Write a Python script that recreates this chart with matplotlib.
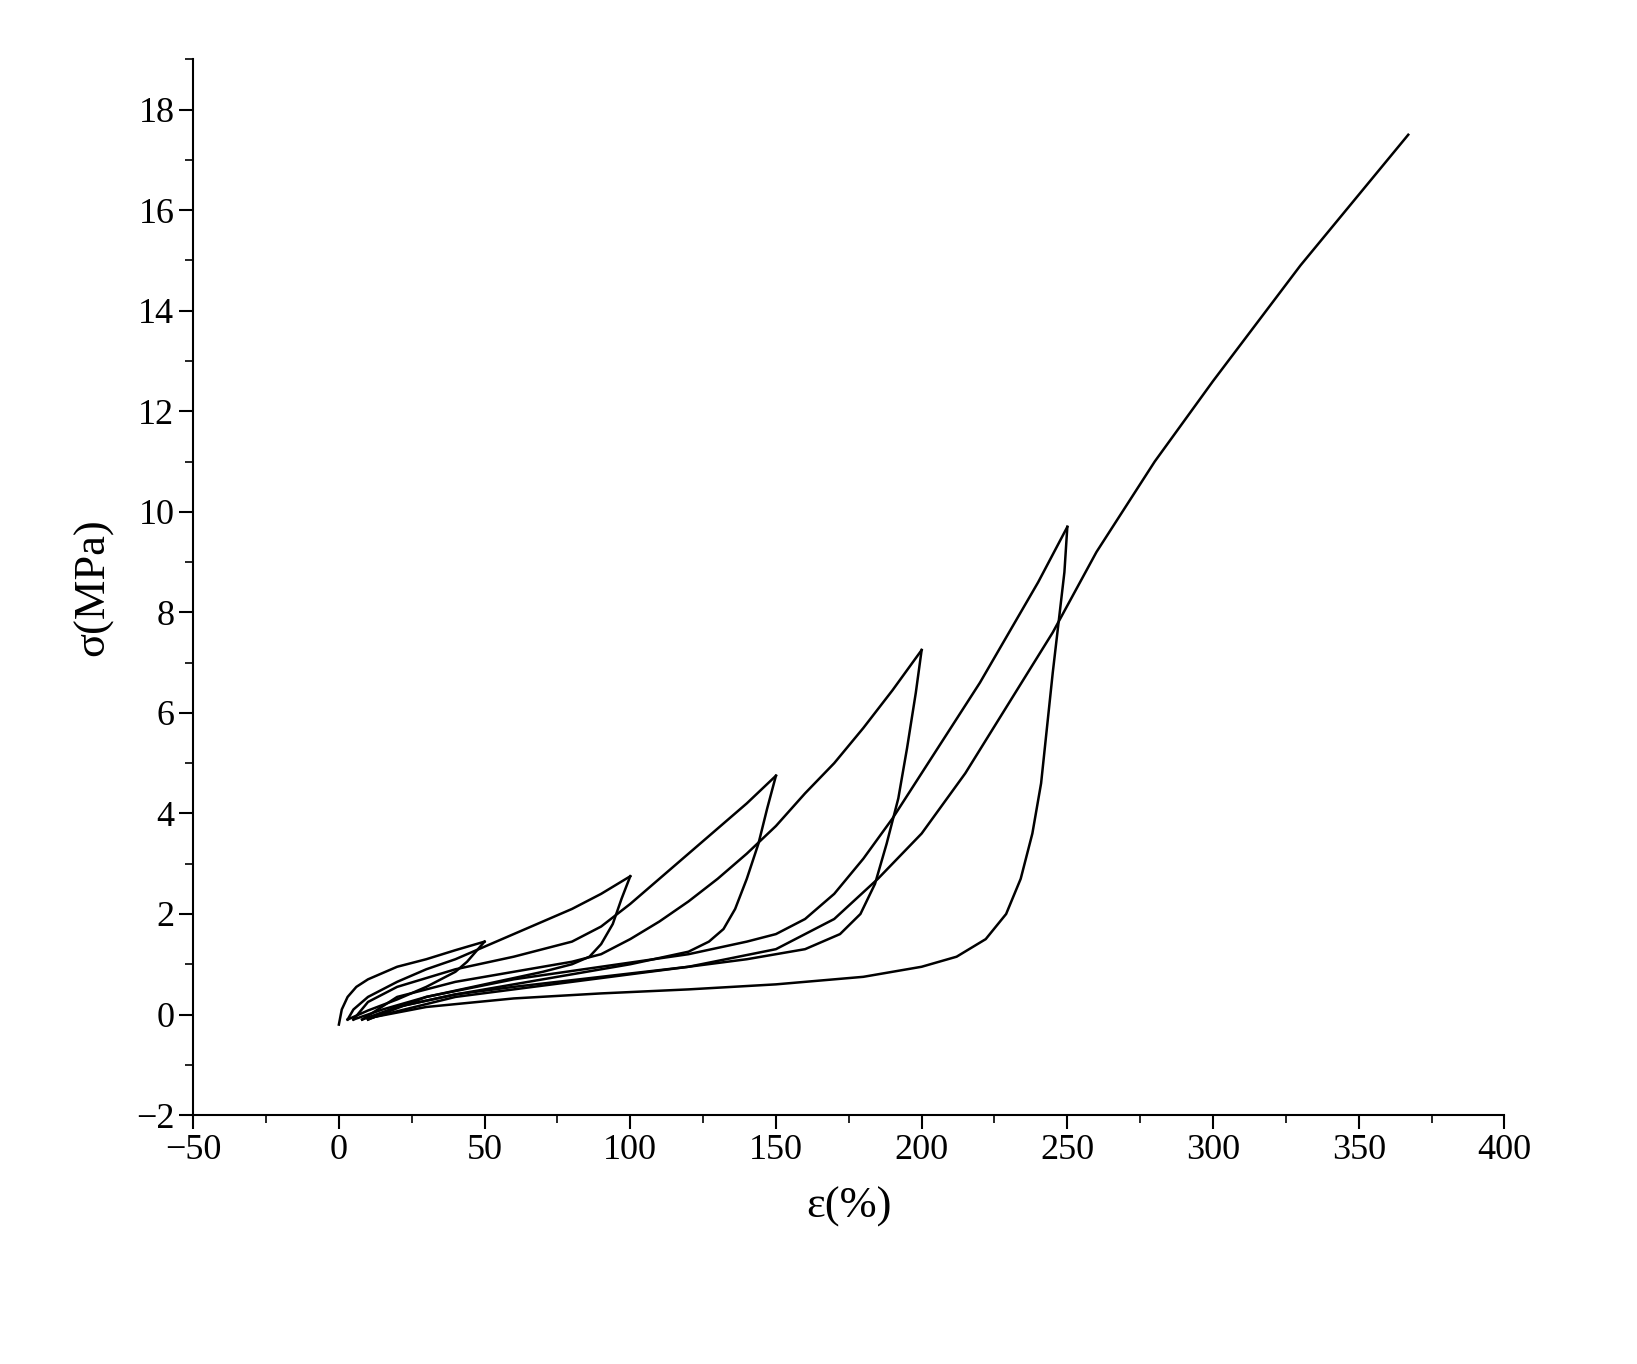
import matplotlib.pyplot as plt
from matplotlib.ticker import MultipleLocator

# loading / unloading branches (strain %, stress MPa)
load1_x = [0, 1, 3, 6, 10, 20, 30, 40, 50]
load1_y = [-0.2, 0.1, 0.35, 0.55, 0.7, 0.95, 1.1, 1.28, 1.45]
unload1_x = [50, 47, 44, 40, 30, 20, 10, 3]
unload1_y = [1.45, 1.25, 1.05, 0.85, 0.55, 0.3, 0.08, -0.1]

load2_x = [3, 5, 10, 20, 30, 40, 50, 60, 70, 80, 90, 100]
load2_y = [-0.1, 0.1, 0.35, 0.65, 0.9, 1.1, 1.35, 1.6, 1.85, 2.1, 2.4, 2.75]
unload2_x = [100, 97, 94, 90, 86, 80, 70, 50, 30, 15, 5]
unload2_y = [2.75, 2.3, 1.8, 1.4, 1.15, 1.0, 0.85, 0.6, 0.35, 0.1, -0.1]

load3_x = [5, 10, 20, 40, 60, 80, 90, 100, 110, 120, 130, 140, 150]
load3_y = [-0.1, 0.25, 0.55, 0.9, 1.15, 1.45, 1.75, 2.2, 2.7, 3.2, 3.7, 4.2, 4.75]
unload3_x = [150, 147, 144, 140, 136, 132, 127, 120, 100, 80, 60, 40, 20, 8]
unload3_y = [4.75, 4.1, 3.4, 2.7, 2.1, 1.7, 1.45, 1.25, 1.0, 0.8, 0.6, 0.4, 0.15, -0.1]

load4_x = [8, 20, 40, 60, 80, 90, 100, 110, 120, 130, 140, 150, 160, 170, 180, 190, 200]
load4_y = [-0.1, 0.35, 0.65, 0.85, 1.05, 1.2, 1.5, 1.85, 2.25, 2.7, 3.2, 3.75, 4.4, 5.0, 5.7, 6.45, 7.25]
unload4_x = [200, 198, 195, 192, 188, 184, 179, 172, 160, 140, 120, 90, 60, 40, 20, 10]
unload4_y = [7.25, 6.4, 5.3, 4.3, 3.4, 2.6, 2.0, 1.6, 1.3, 1.1, 0.95, 0.75, 0.55, 0.4, 0.15, -0.1]

load5_x = [10, 30, 60, 90, 120, 140, 150, 160, 170, 180, 190, 200, 210, 220, 230, 240, 250]
load5_y = [-0.1, 0.35, 0.7, 0.95, 1.2, 1.45, 1.6, 1.9, 2.4, 3.1, 3.9, 4.8, 5.7, 6.6, 7.6, 8.6, 9.7]
unload5_x = [250, 249, 247, 245, 243, 241, 238, 234, 229, 222, 212, 200, 180, 150, 120, 90, 60, 30, 12]
unload5_y = [9.7, 8.8, 7.8, 6.8, 5.7, 4.6, 3.6, 2.7, 2.0, 1.5, 1.15, 0.95, 0.75, 0.6, 0.5, 0.42, 0.32, 0.15, -0.05]

final_x = [12, 40, 80, 120, 150, 170, 185, 200, 215, 230, 245, 260, 280, 300, 330, 367]
final_y = [-0.05, 0.35, 0.65, 0.95, 1.3, 1.9, 2.7, 3.6, 4.8, 6.2, 7.6, 9.2, 11.0, 12.6, 14.9, 17.5]

branches = [(load1_x, load1_y), (unload1_x, unload1_y),
            (load2_x, load2_y), (unload2_x, unload2_y),
            (load3_x, load3_y), (unload3_x, unload3_y),
            (load4_x, load4_y), (unload4_x, unload4_y),
            (load5_x, load5_y), (unload5_x, unload5_y),
            (final_x, final_y)]

plt.rcParams['font.family'] = ['Liberation Serif', 'DejaVu Serif']

fig = plt.figure(figsize=(16.37, 13.64), dpi=100)
ax = fig.add_axes([0.118, 0.1825, 0.801, 0.774])

for bx, by in branches:
    ax.plot(bx, by, color='black', lw=1.8)

ax.set_xlim(-50, 400)
ax.set_ylim(-2, 19)
ax.xaxis.set_major_locator(MultipleLocator(50))
ax.xaxis.set_minor_locator(MultipleLocator(25))
ax.yaxis.set_minor_locator(MultipleLocator(1))
ax.set_yticks(range(-2, 19, 2))
ax.tick_params(which='major', length=10, width=1.5, labelsize=26, direction='out')
ax.tick_params(which='minor', length=6, width=1.2, direction='out')
ax.spines['top'].set_visible(False)
ax.spines['right'].set_visible(False)
ax.spines['left'].set_linewidth(1.5)
ax.spines['bottom'].set_linewidth(1.5)

ax.set_xlabel('ε(%)', fontsize=32, labelpad=14)
ax.set_ylabel('σ(MPa)', fontsize=32, labelpad=16)

fig.savefig('out.png', dpi=100)
